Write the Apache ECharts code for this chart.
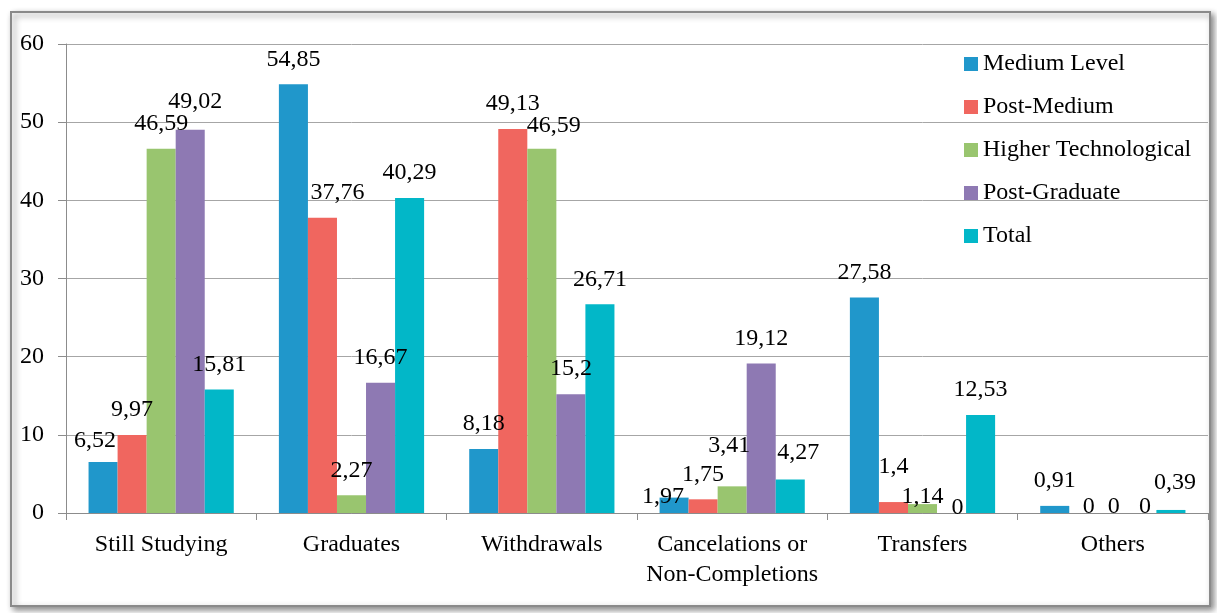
<!DOCTYPE html>
<html>
<head>
<meta charset="utf-8">
<script src="https://cdn.jsdelivr.net/npm/echarts@6/dist/echarts.min.js"></script>
<style>
  html, body { margin: 0; padding: 0; background: #ffffff; }
  #chart { width: 1217px; height: 613px; }
</style>
</head>
<body>
<div id="chart"></div>
<script>
// Categories and series values (percent)
const categories = ['Still Studying', 'Graduates', 'Withdrawals', 'Cancelations or\nNon-Completions', 'Transfers', 'Others'];
const seriesNames = ['Medium Level', 'Post-Medium', 'Higher Technological', 'Post-Graduate', 'Total'];
const mediumLevel = [6.52, 54.85, 8.18, 1.97, 27.58, 0.91];
const postMedium = [9.97, 37.76, 49.13, 1.75, 1.4, 0];
const higherTechnological = [46.59, 2.27, 46.59, 3.41, 1.14, 0];
const postGraduate = [49.02, 16.67, 15.2, 19.12, 0, 0];
const total = [15.81, 40.29, 26.71, 4.27, 12.53, 0.39];
const yTicks = [0, 10, 20, 30, 40, 50, 60];

const seriesValues = [mediumLevel, postMedium, higherTechnological, postGraduate, total];
const colors = ['#2097cb', '#f0665f', '#99c56f', '#8e79b3', '#02b7c8'];

// Manual label nudges [dx, dy] so overlapping value labels stay readable
const labelNudges = [
  [[-8, 4], [0, 0], [0, 0], [-11, 24], [0, 0], [0, 0]],
  [[0, 0], [15, 0], [0, 0], [0, 0], [0, -10], [5, 19]],
  [[0, 0], [0, 0], [12, 2], [-3, -16], [0, 18], [1, 19]],
  [[5, -3], [0, 0], [0, 0], [0, 0], [6, 20], [3, 19]],
  [[0, 0], [0, 0], [0, 0], [8, -2], [0, 0], [4, -2]]
];

const serif = '"Liberation Serif", "DejaVu Serif", serif';
const fs = 24;
const fmt = v => String(v).replace('.', ',');

const series = seriesNames.map((name, si) => ({
  name: name,
  type: 'bar',
  barGap: '0%',
  barCategoryGap: '23.7%',
  itemStyle: { color: colors[si] },
  label: {
    show: true,
    position: 'top',
    distance: 13,
    color: '#000',
    fontFamily: serif,
    fontSize: fs,
    formatter: p => fmt(p.value)
  },
  data: seriesValues[si].map((v, ci) => ({
    value: v,
    label: { offset: labelNudges[si][ci] }
  }))
}));

const chart = echarts.init(document.getElementById('chart'), null, { renderer: 'canvas' });
chart.setOption({
  animation: false,
  backgroundColor: '#ffffff',
  textStyle: { fontFamily: serif },
  graphic: [{
    type: 'rect',
    z: -10,
    shape: { x: 11, y: 12, width: 1199, height: 594 },
    style: {
      fill: '#ffffff',
      stroke: '#8a8a8a',
      lineWidth: 2,
      shadowBlur: 6,
      shadowOffsetX: 3,
      shadowOffsetY: 3,
      shadowColor: 'rgba(0,0,0,0.45)'
    }
  }],
  grid: { left: 66, right: 9, top: 44, bottom: 100, containLabel: false },
  legend: {
    orient: 'vertical',
    left: 959,
    top: 47,
    itemWidth: 14,
    itemHeight: 14,
    itemGap: 19,
    icon: 'rect',
    textStyle: { fontFamily: serif, fontSize: fs, color: '#000', lineHeight: 24 },
    data: seriesNames
  },
  xAxis: {
    type: 'category',
    data: categories,
    axisLine: { lineStyle: { color: '#8c8c8c', width: 1 } },
    axisTick: { show: true, length: 7, alignWithLabel: false, lineStyle: { color: '#8c8c8c' } },
    axisLabel: { color: '#000', fontFamily: serif, fontSize: fs, lineHeight: 30, margin: 17, interval: 0 }
  },
  yAxis: {
    type: 'value',
    min: yTicks[0],
    max: yTicks[yTicks.length - 1],
    interval: yTicks[1] - yTicks[0],
    axisLine: { show: true, lineStyle: { color: '#8c8c8c' } },
    axisTick: { show: true, length: 8, lineStyle: { color: '#8c8c8c' } },
    splitLine: { lineStyle: { color: '#a6a6a6' } },
    axisLabel: { color: '#000', fontFamily: serif, fontSize: fs, margin: 22 }
  },
  series: series
});
</script>
</body>
</html>
